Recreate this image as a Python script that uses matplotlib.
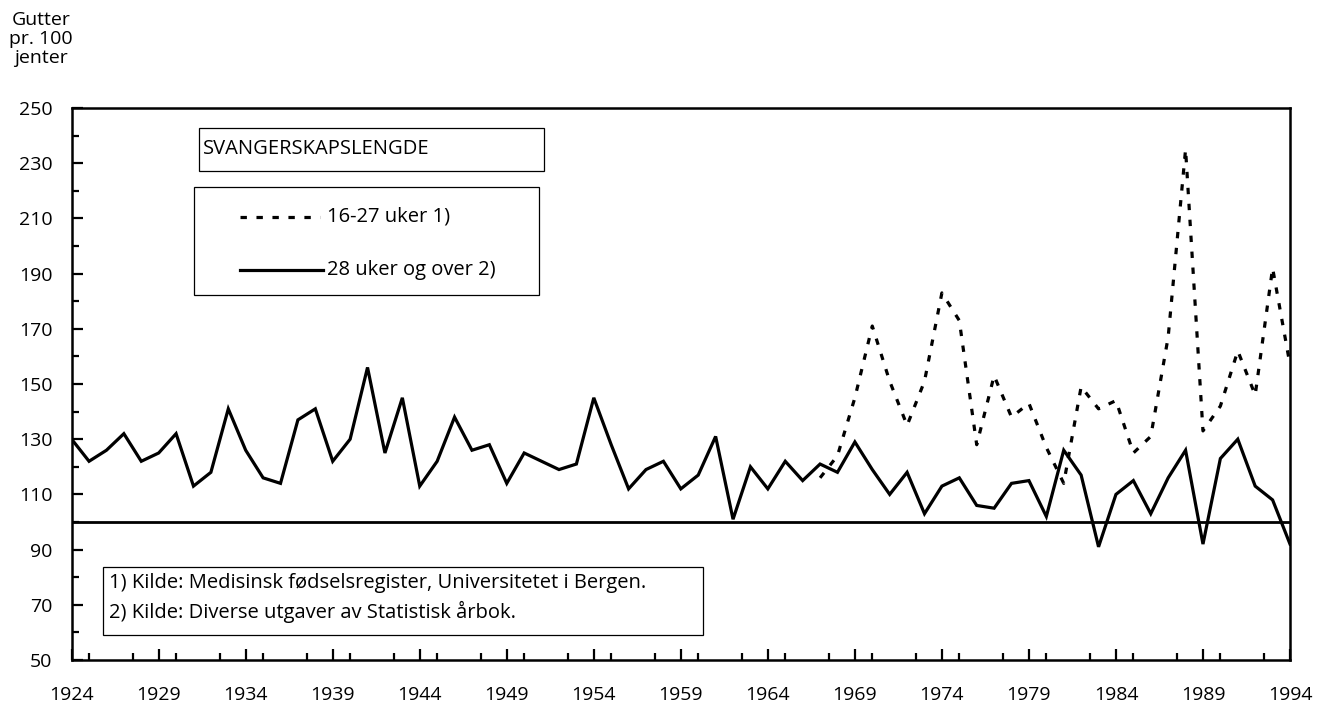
import matplotlib
matplotlib.use("Agg")
import matplotlib.pyplot as plt
from matplotlib.patches import Rectangle
from matplotlib.ticker import MultipleLocator

plt.rcParams.update({"font.family": ["Open Sans", "DejaVu Sans"], "font.size": 14.5})

# gutter pr. 100 jenter, 28 uker og over (1924-1994)
years_all = list(range(1924, 1995))
over28 = [130, 122, 126, 132, 122, 125, 132, 113, 118, 141,
          126, 116, 114, 137, 141, 122, 130, 156, 125, 145,
          113, 122, 138, 126, 128, 114, 125, 122, 119, 121,
          145, 128, 112, 119, 122, 112, 117, 131, 101, 120,
          112, 122, 115, 121, 118, 129, 119, 110, 118, 103,
          113, 116, 106, 105, 114, 115, 102, 126, 117, 91,
          110, 115, 103, 116, 126, 92, 123, 130, 113, 108, 92]
# 16-27 uker (1967-1994)
years_short = list(range(1967, 1995))
uker16_27 = [116, 124, 145, 171, 151, 135, 151, 183, 173, 128,
             153, 138, 143, 127, 114, 149, 141, 144, 125, 131,
             167, 235, 133, 142, 162, 146, 192, 157]

DOTS = (0, (2.0, 3.0))

fig = plt.figure(figsize=(13.17, 7.04), dpi=100)
ax = fig.add_axes([0.0544, 0.0625, 0.9251, 0.7841])

ax.plot(years_short, uker16_27, color="black", lw=2.3, linestyle=DOTS,
        dash_capstyle="butt", zorder=3)
ax.plot(years_all, over28, color="black", lw=2.3, solid_joinstyle="miter", zorder=4)
ax.axhline(100, color="black", lw=2.0, zorder=2)

ax.set_xlim(1924, 1994)
ax.set_ylim(50, 250)
ax.set_xticks(range(1924, 1995, 5))
ax.xaxis.set_minor_locator(MultipleLocator(2.5))
ax.set_yticks(range(50, 251, 20))
ax.yaxis.set_minor_locator(MultipleLocator(10))
ax.tick_params(which="both", direction="in", width=1.6, labelsize=14, top=False, right=False)
ax.tick_params(which="major", length=8)
ax.tick_params(which="minor", length=5)
ax.tick_params(axis="x", pad=19)
ax.tick_params(axis="y", pad=14)
for s in ax.spines.values():
    s.set_linewidth(1.8)

# legend boxes
ax.add_patch(Rectangle((0.1045, 0.886), 0.2832, 0.078, transform=ax.transAxes,
                       fill=False, lw=0.9, zorder=5))
ax.text(0.108, 0.925, "SVANGERSKAPSLENGDE", transform=ax.transAxes,
        ha="left", va="center")
ax.add_patch(Rectangle((0.1004, 0.661), 0.2832, 0.196, transform=ax.transAxes,
                       fill=False, lw=0.9, zorder=5))
ax.plot([0.138, 0.204], [0.803, 0.803], transform=ax.transAxes, color="black",
        lw=2.3, linestyle=DOTS)
ax.plot([0.138, 0.206], [0.707, 0.707], transform=ax.transAxes, color="black", lw=2.3)
ax.text(0.210, 0.803, "16-27 uker 1)", transform=ax.transAxes, ha="left", va="center")
ax.text(0.210, 0.707, "28 uker og over 2)", transform=ax.transAxes, ha="left", va="center")

# footnote box
ax.add_patch(Rectangle((0.0257, 0.0453), 0.4929, 0.1232, transform=ax.transAxes,
                       fill=False, lw=0.9, zorder=5))
ax.text(0.0305, 0.1395, "1) Kilde: Medisinsk fødselsregister, Universitetet i Bergen.",
        transform=ax.transAxes, ha="left", va="center")
ax.text(0.0305, 0.087, "2) Kilde: Diverse utgaver av Statistisk årbok.",
        transform=ax.transAxes, ha="left", va="center")

fig.text(0.0311, 0.984, "Gutter\npr. 100\njenter", ha="center", va="top",
         fontsize=14, linespacing=1.05)

fig.savefig("out.png", dpi=100)
